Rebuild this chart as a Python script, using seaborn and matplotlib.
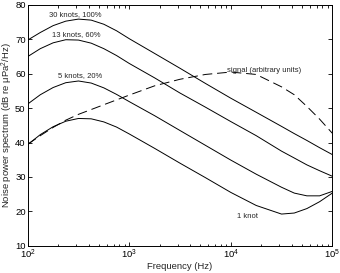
# ambient noise spectra vs. frequency, with a signal curve for comparison

import pandas as pd
from matplotlib import pyplot as plt
from matplotlib.ticker import LogLocator, NullFormatter
import seaborn as sns

freq = [100, 133, 178, 237, 316, 422, 562, 750, 1000, 1780, 3160, 5620,
        10000, 17800, 31600, 42200, 56200, 75000, 100000]

# noise levels (dB re uPa^2/Hz)
knots_30 = [69.8, 72.0, 74.0, 75.3, 75.9, 75.6, 74.4, 72.5, 70.2, 65.9, 61.6,
            57.2, 52.9, 48.8, 44.7, 42.6, 40.6, 38.5, 36.5]
knots_13 = [65.0, 67.3, 69.0, 69.9, 69.8, 68.9, 67.3, 65.3, 63.0, 58.8, 54.4,
            50.3, 46.1, 42.0, 37.5, 35.5, 33.5, 31.8, 30.2]
knots_5 = [51.2, 53.9, 56.0, 57.4, 57.9, 57.3, 55.9, 54.0, 51.9, 47.8, 43.5,
           39.2, 34.9, 30.8, 27.0, 25.3, 24.5, 24.5, 25.8]
knot_1 = [39.4, 42.3, 44.6, 46.2, 47.0, 46.9, 46.0, 44.5, 42.5, 38.3, 34.0,
          29.8, 25.5, 21.7, 19.2, 19.5, 20.8, 22.8, 25.3]
signal = [39.5, 42.0, 44.4, 46.5, 48.2, 49.6, 51.0, 52.4, 53.8, 56.5, 58.4,
          59.8, 60.5, 59.8, 56.2, 53.9, 50.5, 46.8, 42.7]

df = pd.DataFrame({'freq': freq, '30 knots': knots_30, '13 knots': knots_13,
                   '5 knots': knots_5, '1 knot': knot_1, 'signal': signal})

sns.set_style('ticks')
plt.rcParams['font.family'] = ['Liberation Sans', 'DejaVu Sans']
plt.rcParams['mathtext.fontset'] = 'custom'
plt.rcParams['mathtext.rm'] = 'Liberation Sans'
plt.rcParams['mathtext.it'] = 'Liberation Sans:italic'

fig = plt.figure(figsize=(3.4, 2.73), dpi=100)
ax = fig.add_axes([0.0815, 0.1, 0.8959, 0.8817])

for col in ['30 knots', '13 knots', '5 knots', '1 knot']:
    sns.lineplot(data=df, x='freq', y=col, ax=ax, color='k', lw=0.7)
sns.lineplot(data=df, x='freq', y='signal', ax=ax, color='k', lw=0.7,
             linestyle=(0, (10, 5)))

ax.set_xscale('log')
ax.set_xlim(100, 1e5)
ax.set_ylim(10, 80)
ax.set_yticks(range(10, 81, 10))
ax.xaxis.set_major_locator(LogLocator(base=10, numticks=10))
ax.xaxis.set_minor_locator(LogLocator(base=10, subs=range(2, 10), numticks=10))
ax.xaxis.set_minor_formatter(NullFormatter())
ax.tick_params(which='both', direction='in', top=True, right=True,
               width=0.6, colors='k', labelsize=6.8, pad=1.5)
ax.tick_params(which='major', length=3)
ax.tick_params(which='minor', length=1.8)
for s in ax.spines.values():
    s.set_linewidth(0.7)
    s.set_color('k')

ax.set_xlabel('Frequency (Hz)', fontsize=6.8, labelpad=0.5)
ax.set_ylabel(r'Noise power spectrum (dB re μPa$^2$/Hz)', fontsize=6.8, labelpad=0)

kw = dict(fontsize=5.5, ha='center', va='center')
ax.text(292, 77.1, '30 knots, 100%', **kw)
ax.text(300, 71.3, '13 knots, 60%', **kw)
ax.text(327, 59.4, '5 knots, 20%', **kw)
ax.text(21500, 61.0, 'signal (arbitrary units)', **kw)
ax.text(14600, 18.4, '1 knot', **kw)

fig.savefig('out.png', dpi=100)
